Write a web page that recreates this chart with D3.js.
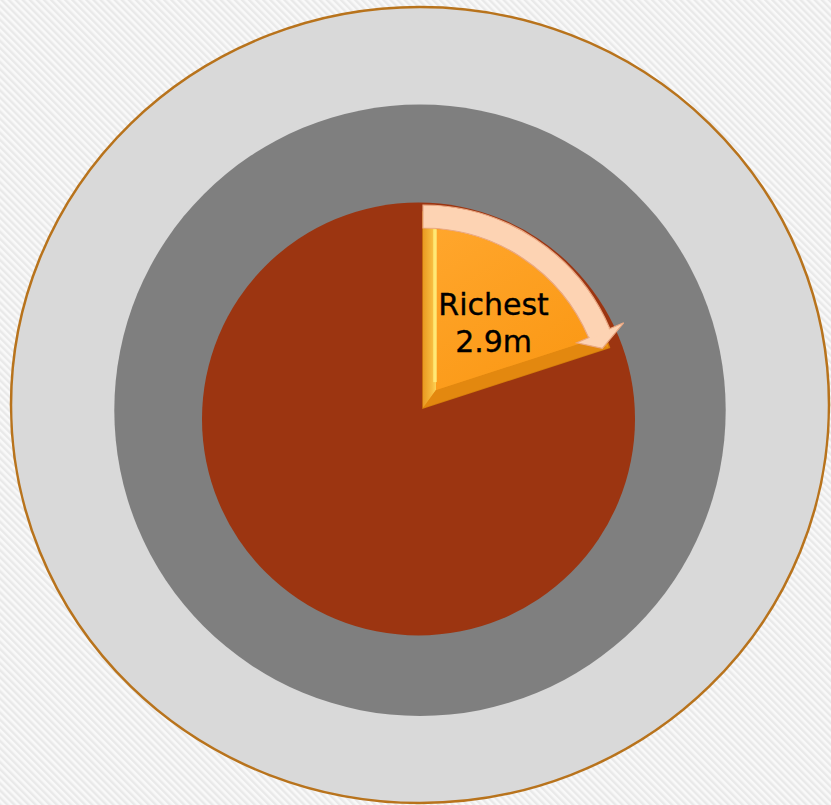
<!DOCTYPE html>
<html>
<head>
<meta charset="utf-8">
<script src="https://cdn.jsdelivr.net/npm/d3@7"></script>
<style>
  html, body { margin: 0; padding: 0; background: #ffffff; }
  svg { display: block; }
</style>
</head>
<body>
<svg id="chart" width="831" height="805"></svg>
<script>
// Share of the population held by the richest group versus everyone else (millions)
const segments = ["Richest", "Others"];
const values = [2.9, 11.6];
const valueLabels = ["2.9m", ""];

const W = 831, H = 805;
const svg = d3.select("#chart");
const defs = svg.append("defs");

// Diagonal pinstripe backdrop
const stripe = defs.append("pattern")
  .attr("id", "stripes")
  .attr("patternUnits", "userSpaceOnUse")
  .attr("width", 5).attr("height", 5)
  .attr("patternTransform", "rotate(-45)");
stripe.append("rect").attr("width", 5).attr("height", 5).attr("fill", "#f9f9f9");
stripe.append("rect").attr("width", 2.4).attr("height", 5).attr("fill", "#e9e9e9");
svg.append("rect").attr("width", W).attr("height", H).attr("fill", "url(#stripes)");

// Concentric backdrop rings
svg.append("ellipse")
  .attr("cx", 420).attr("cy", 405).attr("rx", 409).attr("ry", 398)
  .attr("fill", "#d9d9d9").attr("stroke", "#b8731c").attr("stroke-width", 2.5);
svg.append("circle")
  .attr("cx", 420).attr("cy", 410.3).attr("r", 305.7)
  .attr("fill", "#7f7f7f");

// Pie body
const cx = 418.5, cy = 419, rPie = 216.5;
const pie = d3.pie().sort(null).value(d => d)(values);
svg.append("circle")
  .attr("cx", cx).attr("cy", cy).attr("r", rPie)
  .attr("fill", "#9c3511");

// Exploded "Richest" slice with a bevelled face
const slice = pie[0];
const a0 = slice.startAngle, a1 = slice.endAngle, mid = (a0 + a1) / 2;
const polar = (r, a) => [r * Math.sin(a), -r * Math.cos(a)];
const Rw = 196;
const g = svg.append("g").attr("transform", `translate(${cx + 4.5},${cy - 11})`);

const faceGrad = defs.append("linearGradient").attr("id", "face")
  .attr("x1", 0).attr("y1", 0).attr("x2", 0.6).attr("y2", 1);
faceGrad.append("stop").attr("offset", 0).attr("stop-color", "#ffa62c");
faceGrad.append("stop").attr("offset", 1).attr("stop-color", "#fb9916");

const litGrad = defs.append("linearGradient").attr("id", "lit")
  .attr("x1", 0).attr("y1", 0).attr("x2", 1).attr("y2", 0);
litGrad.append("stop").attr("offset", 0).attr("stop-color", "#e99a22");
litGrad.append("stop").attr("offset", 0.7).attr("stop-color", "#f7bb3e");
litGrad.append("stop").attr("offset", 1).attr("stop-color", "#fcd257");

const arcOuter = d3.arc().innerRadius(0).outerRadius(Rw);
g.append("path")
  .attr("d", arcOuter({startAngle: a0, endAngle: a1}))
  .attr("fill", "#ef9417").attr("stroke", "#d27c0c").attr("stroke-width", 1.5);

const inset = 13;
const shift = inset / Math.sin((a1 - a0) / 2);
const [ix, iy] = polar(shift, mid);
const Ri = Rw - shift - inset;
const pA = [0, 0], pL = polar(Rw, a0), pR = polar(Rw, a1);
const qL = [ix + polar(Ri, a0)[0], iy + polar(Ri, a0)[1]];
const qR = [ix + polar(Ri, a1)[0], iy + polar(Ri, a1)[1]];
const qA = [ix, iy];

// left bevel (lit)
g.append("path").attr("d", d3.line()([pA, pL, qL, qA]) + "Z").attr("fill", "url(#lit)");
// lower bevel (shaded)
g.append("path").attr("d", d3.line()([pA, pR, qR, qA]) + "Z").attr("fill", "#e3880f");
// face
g.append("path")
  .attr("transform", `translate(${ix},${iy})`)
  .attr("d", d3.arc().innerRadius(0).outerRadius(Ri)({startAngle: a0, endAngle: a1}))
  .attr("fill", "url(#face)");
// highlight along the lit edge
g.append("line")
  .attr("x1", qL[0] - 1).attr("y1", qL[1]).attr("x2", qA[0] - 1).attr("y2", qA[1] - 8)
  .attr("stroke", "#ffeb7a").attr("stroke-width", 3.5).attr("stroke-opacity", 0.9);

// Curved arrow sweeping along the slice edge
const arrowIn = 180, arrowOut = 203, headAngle = a1 - 5 * Math.PI / 180;
const arrowShaft = d3.arc().innerRadius(arrowIn).outerRadius(arrowOut)
  ({startAngle: a0, endAngle: headAngle});
const headPts = [polar(167, headAngle), polar(218, headAngle), polar(189, a1 - 0.4 * Math.PI / 180)];
const arrow = g.append("g");
arrow.append("path").attr("d", arrowShaft).attr("fill", "#fdd3b3")
  .attr("stroke", "#eaa883").attr("stroke-width", 1.2);
arrow.append("path").attr("d", d3.line()(headPts) + "Z").attr("fill", "#fdd3b3")
  .attr("stroke", "#eaa883").attr("stroke-width", 1.2);
arrow.append("path").attr("d", d3.arc().innerRadius(arrowIn + 1).outerRadius(arrowOut - 1)
  ({startAngle: a0 + 0.005, endAngle: headAngle + 0.01})).attr("fill", "#fdd3b3");

// Label
const [lx, ly] = polar(111, mid + 3.5 * Math.PI / 180);
const label = g.append("text")
  .attr("text-anchor", "middle")
  .attr("font-family", "'DejaVu Sans', sans-serif")
  .attr("font-size", 30)
  .attr("fill", "#000000")
  .attr("stroke", "#000000")
  .attr("stroke-width", 0.35);
label.append("tspan").attr("x", lx).attr("y", ly - 7.4).text(segments[0]);
label.append("tspan").attr("x", lx).attr("y", ly + 29.6).text(valueLabels[0]);
</script>
</body>
</html>
